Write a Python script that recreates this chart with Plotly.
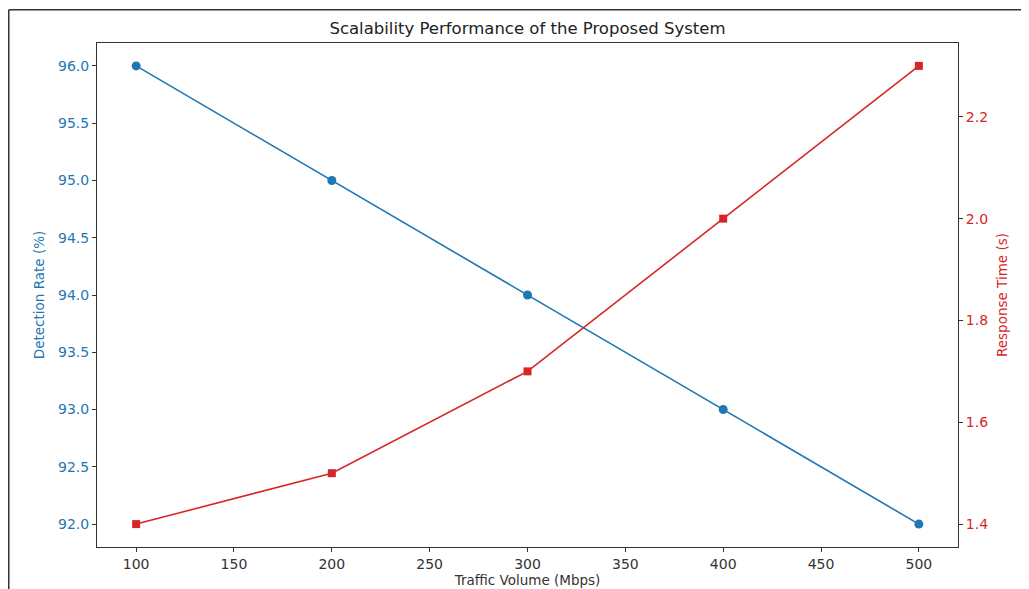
import plotly.graph_objects as go

traffic = [100, 200, 300, 400, 500]
detection_rate = [96.0, 95.0, 94.0, 93.0, 92.0]
response_time = [1.4, 1.5, 1.7, 2.0, 2.3]
x_ticks = [100, 150, 200, 250, 300, 350, 400, 450, 500]
y1_ticks = [92.0, 92.5, 93.0, 93.5, 94.0, 94.5, 95.0, 95.5, 96.0]
y2_ticks = [1.4, 1.6, 1.8, 2.0, 2.2]

BLUE = "#1f77b4"
RED = "#d62728"
FONT = "DejaVu Sans"

# page body has an 8px margin, so figure coordinates are shifted by 8px
OFF = 8
PL, PR, PT, PB = 97 - OFF, 958 - OFF, 43 - OFF, 549 - OFF

fig = go.Figure()
fig.add_trace(go.Scatter(
    x=traffic, y=detection_rate, mode="lines+markers", name="Detection Rate",
    line=dict(color=BLUE, width=1.6),
    marker=dict(symbol="circle", size=9, color=BLUE),
    yaxis="y", showlegend=False))
fig.add_trace(go.Scatter(
    x=traffic, y=response_time, mode="lines+markers", name="Response Time",
    line=dict(color=RED, width=1.6),
    marker=dict(symbol="square", size=8, color=RED),
    yaxis="y2", showlegend=False))

axis_common = dict(showgrid=False, zeroline=False, showline=True, linecolor="#333333",
                   linewidth=1, ticks="outside", ticklen=4, tickcolor="#333333")

fig.update_layout(
    width=1029, height=589,
    margin=dict(l=PL, r=1029 - PR, t=PT, b=589 - PB),
    paper_bgcolor="white", plot_bgcolor="white",
    font=dict(family=FONT, color="#333333"),
    title=dict(text="Scalability Performance of the Proposed System",
               x=(PL + PR) / 2 / 1029, xanchor="center", y=1 - (28 - OFF) / 589, yanchor="middle",
               font=dict(family=FONT, size=16.5, color="#222222")),
    xaxis=dict(**axis_common, range=[80, 520], tickvals=x_ticks, mirror=True,
               tickfont=dict(family=FONT, size=14, color="#333333"),
               title=dict(text="Traffic Volume (Mbps)", font=dict(family=FONT, size=13.5, color="#333333"),
                          standoff=4)),
    yaxis=dict(**axis_common, tickfont=dict(family=FONT, size=14, color=BLUE),
               range=[91.8, 96.2], tickvals=y1_ticks, tickformat=".1f",
               title=dict(text="Detection Rate (%)", font=dict(family=FONT, size=13.5, color=BLUE),
                          standoff=10)),
    yaxis2=dict(**axis_common, tickfont=dict(family=FONT, size=14, color=RED),
                range=[1.355, 2.345], tickvals=y2_ticks, tickformat=".1f",
                overlaying="y", side="right",
                title=dict(text="Response Time (s)", font=dict(family=FONT, size=13.5, color=RED),
                           standoff=10)),
)

# outer image frame (left and top edges)
W, H = PR - PL, PB - PT
x_left = (0.75 - PL) / W
x_right = (1029 - PL) / W
y_top = 1 + (PT - 1.5) / H
y_bot = (PB - 589) / H
fig.add_shape(type="line", xref="paper", yref="paper", x0=x_left, x1=x_left, y0=y_bot, y1=y_top,
              line=dict(color="#333333", width=1.5))
fig.add_shape(type="line", xref="paper", yref="paper", x0=x_left, x1=x_right, y0=y_top, y1=y_top,
              line=dict(color="#333333", width=1.5))

fig.write_html("out.html")
